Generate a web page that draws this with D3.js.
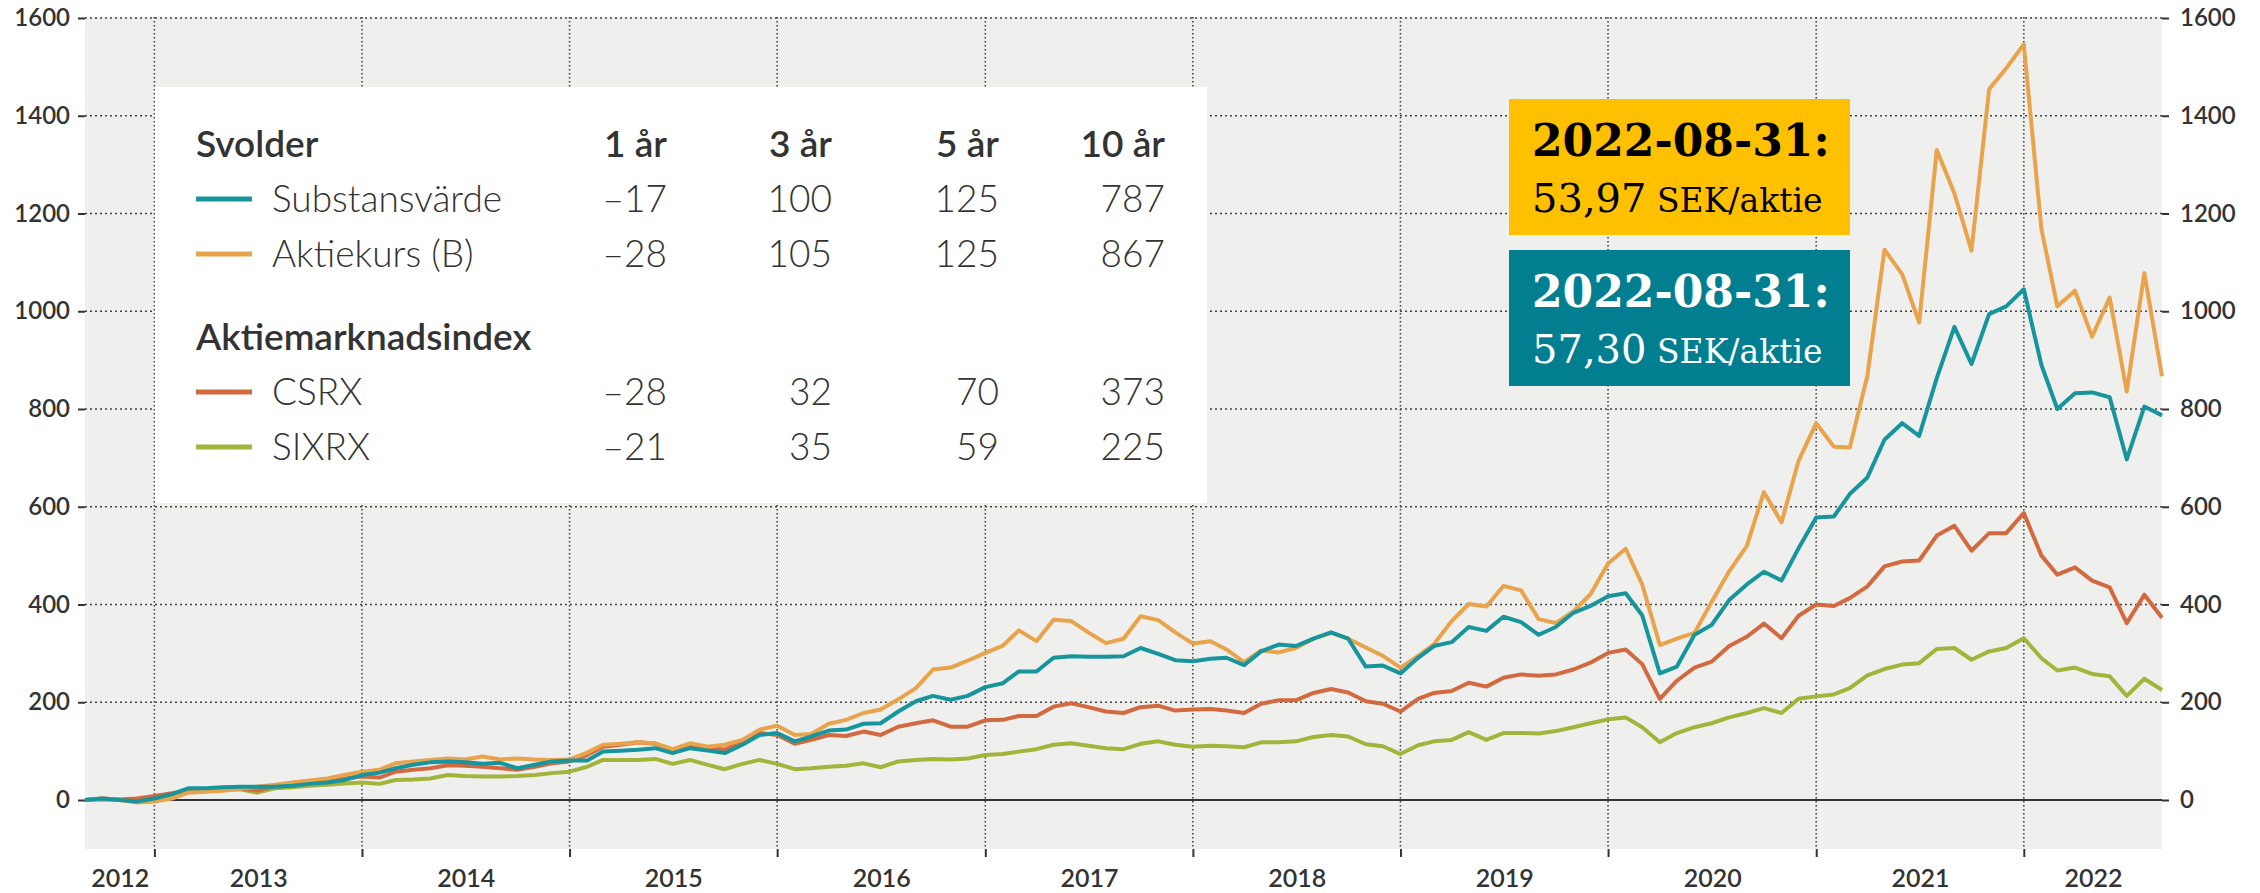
<!DOCTYPE html>
<html><head><meta charset="utf-8">
<script src="https://cdn.jsdelivr.net/npm/d3@7"></script>
<style>
html,body{margin:0;padding:0;background:#fff;}
svg{display:block;}
</style></head>
<body>
<svg id="chart" width="2260" height="893"></svg>
<script>
// ---------- DATA ----------
const firstMonth = [2012, 8];   // series starts 2012-08-31, monthly month-end values
const monthCount = 121;         // to 2022-08-31
const yTicks = [0, 200, 400, 600, 800, 1000, 1200, 1400, 1600];
const yearLabels = ["2012","2013","2014","2015","2016","2017","2018","2019","2020","2021","2022"];

const substansvarde = [0,3,0,-3,3,12,24,24,26,27,27,27,29,33,36,41,51,56,65,72,77,79,77,74,76,65,
  72,79,81,81,99,101,103,106,96,106,101,96,113,133,137,120,130,142,144,156,157,181,202,213,
  205,213,231,239,263,263,291,294,293,293,294,311,299,286,284,289,291,276,304,318,315,330,343,330,
  273,275,259,291,315,323,354,346,375,364,338,354,383,397,417,423,378,259,273,338,358,409,441,467,
  449,515,578,580,626,660,737,771,745,863,968,892,994,1010,1045,890,800,832,834,824,697,805,787];
const aktiekurs = [0,3,0,-5,-3,3,15,17,19,23,27,31,36,40,44,51,58,62,75,79,82,85,83,89,83,85,
  83,82,83,97,113,115,118,116,104,116,109,113,123,144,152,133,135,156,164,178,185,206,229,267,
  271,285,301,316,347,325,369,366,343,321,330,376,368,343,320,325,308,282,306,302,311,330,342,330,
  312,295,271,295,319,366,401,396,438,429,370,362,386,421,484,514,441,317,330,342,405,468,520,630,
  568,694,771,723,721,868,1126,1076,977,1330,1241,1124,1454,1497,1546,1168,1010,1042,948,1028,836,1078,867];
const csrx = [0,3,1,3,8,14,19,21,24,24,19,29,33,35,40,44,48,46,58,62,65,71,70,68,65,62,
  68,75,79,92,109,113,118,115,103,113,108,103,120,137,133,115,123,133,131,140,133,150,157,163,
  150,150,163,164,172,172,191,198,190,181,178,190,193,183,185,186,183,178,197,204,204,219,227,220,
  202,197,181,207,219,223,240,232,250,257,254,257,267,281,301,308,278,207,244,271,283,315,334,361,
  331,377,400,397,413,437,478,488,490,541,561,510,546,546,587,500,461,476,449,435,362,420,373];
const sixrx = [0,1,0,0,3,8,17,19,21,22,15,24,26,29,31,34,36,33,41,42,44,51,49,48,48,49,
  51,55,58,68,82,82,82,84,74,82,72,63,74,82,74,63,65,68,70,75,67,79,82,84,
  83,85,92,94,99,104,113,116,111,106,104,115,120,113,109,111,110,108,118,118,120,129,133,130,
  114,110,94,112,120,123,139,123,137,137,136,141,149,157,165,169,149,118,137,149,157,169,178,188,
  178,207,212,216,229,255,268,277,280,309,311,287,304,311,331,290,265,271,258,253,213,248,225];

const seriesNames = ["Substansvärde", "Aktiekurs (B)", "CSRX", "SIXRX"];
const tableColumns = ["1 år", "3 år", "5 år", "10 år"];
const substansReturns = ["–17", "100", "125", "787"];
const aktiekursReturns = ["–28", "105", "125", "867"];
const csrxReturns = ["–28", "32", "70", "373"];
const sixrxReturns = ["–21", "35", "59", "225"];
const groupTitles = ["Svolder", "Aktiemarknadsindex"];

const noteDate = "2022-08-31:";
const noteAktiekurs = "53,97";
const noteSubstans = "57,30";
const noteUnit = "SEK/aktie";

// ---------- STYLE ----------
const colors = {teal:"#17959c", orange:"#e9a34a", red:"#d3693f", green:"#a3b43b"};
const svg = d3.select("#chart");
const font = "Lato, 'Open Sans', sans-serif";
const textCol = "#333";

const dates = d3.range(monthCount).map(i => new Date(firstMonth[0], firstMonth[1] + i, 0));
const x = d3.scaleTime().domain([dates[0], dates[dates.length-1]]).range([85, 2162]);
const y = d3.scaleLinear().domain([0, 1600]).range([800, 18]);
const bgTop = 17, bgBottom = 849;

// background
svg.append("rect").attr("x", x.range()[0]).attr("y", bgTop)
  .attr("width", x.range()[1]-x.range()[0]).attr("height", bgBottom-bgTop).attr("fill", "#efefee");

// year boundaries (Dec 31)
const yearEnds = d3.range(2012, 2022).map(yy => new Date(yy, 11, 31));

// vertical gridlines
svg.append("g").selectAll("line").data(yearEnds).join("line")
  .attr("x1", d => x(d)).attr("x2", d => x(d)).attr("y1", bgTop).attr("y2", bgBottom)
  .attr("stroke", "#444").attr("stroke-width", 1.6).attr("stroke-dasharray", "1.6,2.4");

// horizontal gridlines
svg.append("g").selectAll("line").data(yTicks.filter(d => d > 0)).join("line")
  .attr("x1", x.range()[0]).attr("x2", x.range()[1]).attr("y1", d => y(d)).attr("y2", d => y(d))
  .attr("stroke", "#444").attr("stroke-width", 1.6).attr("stroke-dasharray", "2,3");

// zero line
svg.append("line").attr("x1", x.range()[0]).attr("x2", x.range()[1]).attr("y1", y(0)).attr("y2", y(0))
  .attr("stroke", "#333").attr("stroke-width", 2);

// axes
function styleAxis(g) {
  g.select(".domain").remove();
  g.selectAll(".tick line").attr("stroke", "#333").attr("stroke-width", 2);
  g.selectAll(".tick text").attr("fill", textCol).style("font-family", font)
    .style("font-size", "24px").style("font-weight", 600);
}
svg.append("g").attr("transform", `translate(${x.range()[0]},0)`)
  .call(d3.axisLeft(y).tickValues(yTicks).tickSize(7).tickPadding(8).tickFormat(d3.format("d")))
  .call(styleAxis);
svg.append("g").attr("transform", `translate(${x.range()[1]},0)`)
  .call(d3.axisRight(y).tickValues(yTicks).tickSize(7).tickPadding(11).tickFormat(d3.format("d")))
  .call(styleAxis);
// bottom ticks at year boundaries
svg.append("g").attr("transform", `translate(0,${bgBottom})`)
  .call(d3.axisBottom(x).tickValues(yearEnds).tickSize(8).tickFormat(""))
  .call(styleAxis);
// year labels centred in each year segment
const bounds = [dates[0], ...yearEnds, dates[dates.length-1]];
const yearMids = yearLabels.map((lab, i) => new Date((bounds[i].getTime() + bounds[i+1].getTime())/2));
svg.append("g").attr("transform", `translate(0,${bgBottom})`)
  .call(d3.axisBottom(x).tickValues(yearMids).tickSize(0).tickPadding(20)
    .tickFormat((d, i) => yearLabels[i]))
  .call(styleAxis)
  .selectAll(".tick text").style("font-size", "25px");

// lines
const line = d3.line().x((d, i) => x(dates[i])).y(d => y(d)).curve(d3.curveLinear);
[[sixrx, colors.green], [csrx, colors.red], [aktiekurs, colors.orange], [substansvarde, colors.teal]]
  .forEach(([vals, c]) => {
    svg.append("path").datum(vals).attr("d", line).attr("fill", "none")
      .attr("stroke", c).attr("stroke-width", 4).attr("stroke-linejoin", "round");
  });

// ---------- legend table ----------
const leg = svg.append("g");
leg.append("rect").attr("x", 155).attr("y", 87).attr("width", 1052).attr("height", 416).attr("fill", "#fff");
const colX = [667, 832, 999, 1165];
const legText = (xx, yy, t, w, anchor) => leg.append("text").attr("x", xx).attr("y", yy).text(t)
  .attr("fill", textCol).attr("text-anchor", anchor || "start")
  .style("font-family", font).style("font-size", "37px").style("font-weight", w);
legText(196, 157, groupTitles[0], 600);
tableColumns.forEach((c, i) => legText(colX[i], 157, c, 600, "end"));
legText(196, 350, groupTitles[1], 600);
const rows = [
  [seriesNames[0], substansReturns, colors.teal, 212],
  [seriesNames[1], aktiekursReturns, colors.orange, 267],
  [seriesNames[2], csrxReturns, colors.red, 405],
  [seriesNames[3], sixrxReturns, colors.green, 460]
];
rows.forEach(([name, vals, c, by]) => {
  leg.append("line").attr("x1", 196).attr("x2", 252).attr("y1", by - 13).attr("y2", by - 13)
    .attr("stroke", c).attr("stroke-width", 5);
  legText(272, by, name, 300);
  vals.forEach((v, i) => legText(colX[i], by, v, 300, "end"));
});

// ---------- annotation boxes ----------
const serif = "'DejaVu Serif', Georgia, serif";
function note(yTop, fill, col, value) {
  const g = svg.append("g");
  g.append("rect").attr("x", 1509).attr("y", yTop).attr("width", 341).attr("height", 136).attr("fill", fill);
  g.append("text").attr("x", 1532).attr("y", yTop + 57).text(noteDate).attr("fill", col)
    .style("font-family", serif).style("font-size", "44px").style("font-weight", 700);
  const t = g.append("text").attr("x", 1532).attr("y", yTop + 113).attr("fill", col)
    .style("font-family", serif);
  t.append("tspan").text(value).style("font-size", "40px");
  t.append("tspan").text(" " + noteUnit).style("font-size", "33px");
}
note(99, "#ffc000", "#000", noteAktiekurs);
note(250, "#017f91", "#fff", noteSubstans);
</script>
</body></html>
